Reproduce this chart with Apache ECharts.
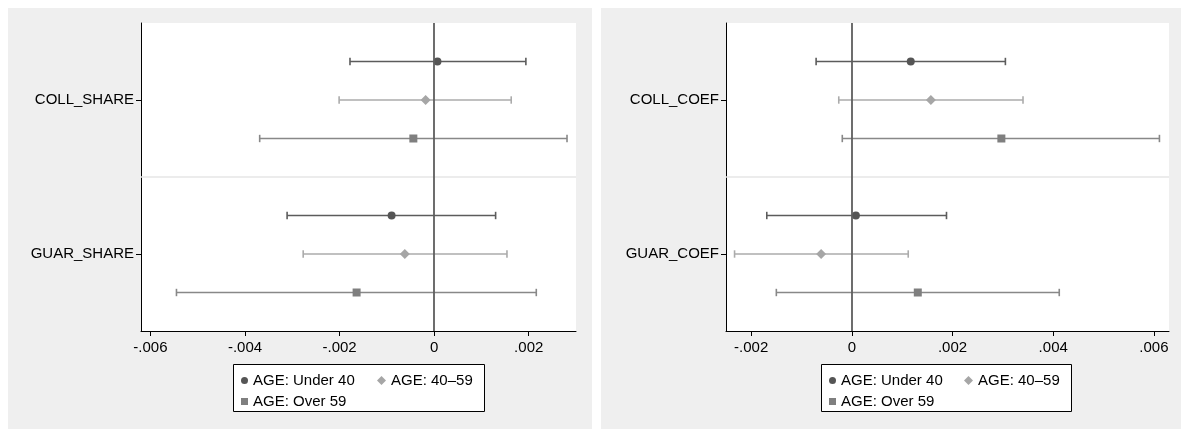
<!DOCTYPE html>
<html>
<head>
<meta charset="utf-8">
<script src="https://cdn.jsdelivr.net/npm/echarts@6/dist/echarts.min.js"></script>
<style>
  html, body { margin: 0; padding: 0; background: #fff; }
  .panel { position: absolute; top: 8px; height: 421px; background: #efefef; }
  #chart { position: absolute; left: 0; top: 0; width: 1181px; height: 429px; }
</style>
</head>
<body>
<div class="panel" style="left:8px;width:584px"></div>
<div class="panel" style="left:601px;width:580px"></div>
<div id="chart"></div>
<script>
// groups (legend entries)
const groups = ['AGE: Under 40', 'AGE: 40–59', 'AGE: Over 59'];

// left panel: share variables
const leftVars = ['COLL_SHARE', 'GUAR_SHARE'];
const leftUnder40 = [0.00007, -0.0009];
const leftUnder40Lo = [-0.00178, -0.00311];
const leftUnder40Hi = [0.00194, 0.0013];
const leftMid = [-0.00018, -0.00062];
const leftMidLo = [-0.00201, -0.00277];
const leftMidHi = [0.00163, 0.00154];
const leftOver59 = [-0.00044, -0.00164];
const leftOver59Lo = [-0.00369, -0.00545];
const leftOver59Hi = [0.00281, 0.00216];

// right panel: coefficient variables
const rightVars = ['COLL_COEF', 'GUAR_COEF'];
const rightUnder40 = [0.00117, 0.00008];
const rightUnder40Lo = [-0.00071, -0.00169];
const rightUnder40Hi = [0.00305, 0.00188];
const rightMid = [0.00157, -0.00061];
const rightMidLo = [-0.00026, -0.00233];
const rightMidHi = [0.0034, 0.00112];
const rightOver59 = [0.00297, 0.00131];
const rightOver59Lo = [-0.00019, -0.0015];
const rightOver59Hi = [0.00611, 0.00412];

// x tick labels
const leftTicks = [-0.006, -0.004, -0.002, 0, 0.002];
const rightTicks = [-0.002, 0, 0.002, 0.004, 0.006];

const markerColors = ['#555555', '#a6a6a6', '#7f7f7f'];
const lineColors = ['#5c5c5c', '#ababab', '#888888'];
const symbols = ['circle', 'diamond', 'rect'];
const symbolSizes = [8, 10, 8];
const FONT = '"Liberation Sans", Arial, sans-serif';

// row position of group g for variable v (3 rows per variable, gap row between)
function rowOf(v, g) { return v * 4 + 1 + g; }

function fmtTick(v) {
  let s = Number(v.toFixed(4)).toString();
  if (s === '0') return '0';
  return s.replace('0.', '.');
}

function xAxisFor(idx, min, max, ticks) {
  return {
    type: 'value', gridIndex: idx, min: min, max: max,
    splitLine: { show: false },
    axisLine: { show: true, onZero: false, lineStyle: { color: '#000', width: 1 } },
    axisTick: { show: true, length: 5, customValues: ticks, lineStyle: { color: '#000' } },
    axisLabel: { customValues: ticks, margin: 9, color: '#000', fontSize: 15, fontFamily: FONT, formatter: fmtTick }
  };
}

function yAxisFor(idx, vars) {
  return {
    type: 'value', gridIndex: idx, min: 0, max: 8, inverse: true,
    splitLine: { show: false },
    axisLine: { show: true, onZero: false, lineStyle: { color: '#000', width: 1 } },
    axisTick: { show: true, length: 5, customValues: [2, 6], lineStyle: { color: '#000' } },
    axisLabel: {
      customValues: [2, 6], margin: 7, color: '#000', fontSize: 15, fontFamily: FONT,
      formatter: v => vars[(v - 2) / 4]
    }
  };
}

function buildSeries(idx, est, lo, hi) {
  const out = [];
  // reference lines
  out.push({
    type: 'scatter', xAxisIndex: idx, yAxisIndex: idx, data: [], z: 3,
    markLine: {
      silent: true, symbol: 'none', animation: false, label: { show: false },
      data: [
        { yAxis: 4, lineStyle: { color: '#e6e6e6', width: 1.5, type: 'solid' } },
        { xAxis: 0, lineStyle: { color: '#5e5e5e', width: 1.8, type: 'solid' } }
      ]
    }
  });
  groups.forEach((name, g) => {
    const ci = lo[g].map((l, v) => [l, hi[g][v], rowOf(v, g)]);
    const pts = est[g].map((e, v) => [e, rowOf(v, g)]);
    out.push({
      type: 'custom', name: 'ci ' + name, xAxisIndex: idx, yAxisIndex: idx, z: 2,
      data: ci, encode: { x: [0, 1], y: 2 },
      renderItem: (params, api) => {
        const y = api.value(2);
        const a = api.coord([api.value(0), y]);
        const b = api.coord([api.value(1), y]);
        const style = { stroke: lineColors[g], lineWidth: 1.6 };
        const h = 3.7;
        return {
          type: 'group', children: [
            { type: 'line', shape: { x1: a[0], y1: a[1], x2: b[0], y2: b[1] }, style: style },
            { type: 'line', shape: { x1: a[0], y1: a[1] - h, x2: a[0], y2: a[1] + h }, style: style },
            { type: 'line', shape: { x1: b[0], y1: b[1] - h, x2: b[0], y2: b[1] + h }, style: style }
          ]
        };
      }
    });
    out.push({
      type: 'scatter', name: name, xAxisIndex: idx, yAxisIndex: idx, z: 4,
      symbol: symbols[g], symbolSize: symbolSizes[g],
      itemStyle: { color: markerColors[g], opacity: 1 },
      data: pts
    });
  });
  return out;
}

// legend: column one holds Under 40 / Over 59, column two holds 40–59
function legendCol(left, idxs, size) {
  return {
    left: left, top: 372, orient: 'vertical',
    padding: 0, itemGap: 4, itemWidth: size, itemHeight: size,
    data: idxs.map(g => ({ name: groups[g], icon: symbols[g] })),
    textStyle: { color: '#000', fontSize: 15, fontFamily: FONT, lineHeight: 17 },
    selectedMode: false
  };
}

const chart = echarts.init(document.getElementById('chart'), null, { renderer: 'canvas' });
chart.setOption({
  backgroundColor: 'transparent',
  animation: false,
  grid: [
    { left: 141, right: 605, top: 23, bottom: 98, show: true, backgroundColor: '#fff', borderWidth: 0, outerBoundsMode: 'none' },
    { left: 726, right: 12, top: 23, bottom: 98, show: true, backgroundColor: '#fff', borderWidth: 0, outerBoundsMode: 'none' }
  ],
  xAxis: [xAxisFor(0, -0.0062, 0.003, leftTicks), xAxisFor(1, -0.0025, 0.0063, rightTicks)],
  yAxis: [yAxisFor(0, leftVars), yAxisFor(1, rightVars)],
  legend: [
    legendCol(241, [0, 2], 7), legendCol(377, [1], 9),
    legendCol(829, [0, 2], 7), legendCol(964, [1], 9)
  ],
  graphic: [
    { type: 'rect', z: 3, shape: { x: 233.5, y: 364.5, width: 251, height: 47 }, style: { fill: '#fff', stroke: '#000', lineWidth: 1 } },
    { type: 'rect', z: 3, shape: { x: 821.5, y: 364.5, width: 250, height: 47 }, style: { fill: '#fff', stroke: '#000', lineWidth: 1 } }
  ],
  series: [
    ...buildSeries(0, [leftUnder40, leftMid, leftOver59], [leftUnder40Lo, leftMidLo, leftOver59Lo], [leftUnder40Hi, leftMidHi, leftOver59Hi]),
    ...buildSeries(1, [rightUnder40, rightMid, rightOver59], [rightUnder40Lo, rightMidLo, rightOver59Lo], [rightUnder40Hi, rightMidHi, rightOver59Hi])
  ]
});
window.addEventListener('resize', () => chart.resize());
</script>
</body>
</html>
